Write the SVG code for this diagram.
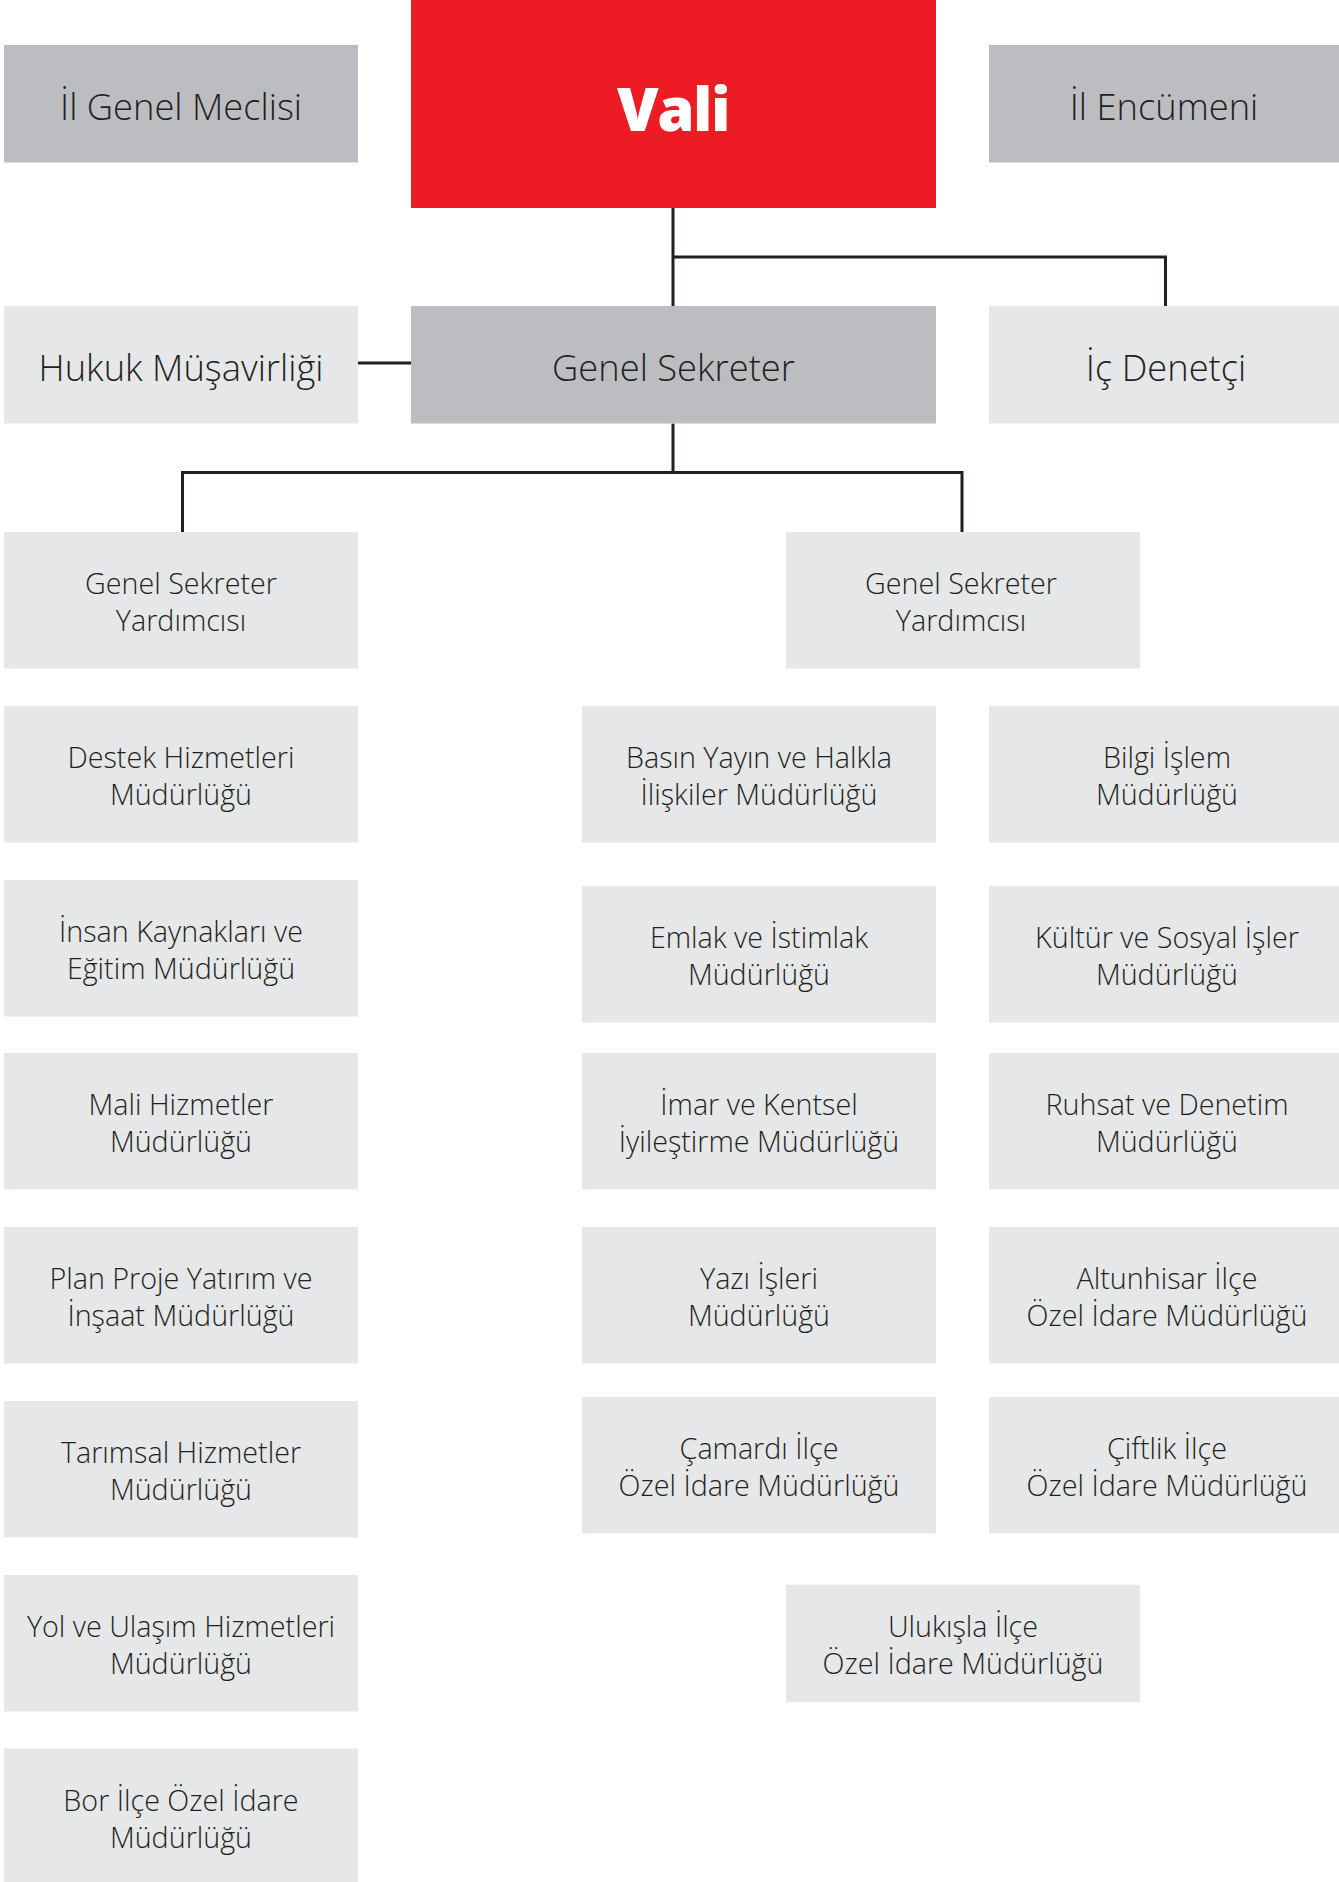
<svg xmlns="http://www.w3.org/2000/svg" width="1339" height="1882" viewBox="0 0 1339 1882">
<style>
.dk{fill:#bcbdc0}
.lt{fill:#e6e7e8}
.red{fill:#ed1c24}
.t1{font-family:"Open Sans","Noto Sans","Liberation Sans",sans-serif;font-weight:300;font-size:36.3px;fill:#231f20;text-anchor:middle}
.t2{font-family:"Open Sans","Noto Sans","Liberation Sans",sans-serif;font-weight:300;font-size:28.7px;fill:#231f20;text-anchor:middle}
.tv{font-family:"Open Sans","Noto Sans","Liberation Sans",sans-serif;font-weight:800;font-size:60px;letter-spacing:-1.5px;fill:#ffffff;text-anchor:middle}
.ln{fill:none;stroke:#231f20;stroke-width:3}
</style>
<rect width="1339" height="1882" fill="#ffffff"/>
<g id="connectors">
<path class="ln" d="M673,208 V306"/>
<path class="ln" d="M673,257 H1165.5 V306"/>
<path class="ln" d="M358,363 H411"/>
<path class="ln" d="M673,423.5 V472.5"/>
<path class="ln" d="M182.5,532 V472.5 H962 V532"/>
</g>
<g id="il-genel-meclisi"><rect class="dk" x="4" y="45" width="354" height="117.5"/><text class="t1" x="181" y="120">İl Genel Meclisi</text></g>
<g id="vali"><rect class="red" x="411" y="0" width="525" height="208"/><text class="tv" x="673" y="131">Vali</text></g>
<g id="il-encumeni"><rect class="dk" x="989" y="45" width="350" height="117.5"/><text class="t1" x="1164" y="120">İl Encümeni</text></g>
<g id="hukuk"><rect class="lt" x="4" y="306" width="354" height="117.5"/><text class="t1" x="181" y="380.5">Hukuk Müşavirliği</text></g>
<g id="genel-sekreter"><rect class="dk" x="411" y="306" width="525" height="117.5"/><text class="t1" x="673.5" y="380.5">Genel Sekreter</text></g>
<g id="ic-denetci"><rect class="lt" x="989" y="306" width="350" height="117.5"/><text class="t1" x="1166" y="380.5">İç Denetçi</text></g>

<g id="gsy-left"><rect class="lt" x="4" y="532" width="354" height="136.5"/><text class="t2" y="594.3"><tspan x="181">Genel Sekreter</tspan><tspan x="181" dy="37">Yardımcısı</tspan></text></g>
<g id="gsy-right"><rect class="lt" x="786" y="532" width="354" height="136.5"/><text class="t2" y="594.3"><tspan x="961">Genel Sekreter</tspan><tspan x="961" dy="37">Yardımcısı</tspan></text></g>

<g id="destek"><rect class="lt" x="4" y="706" width="354" height="136.5"/><text class="t2" y="768.3"><tspan x="181">Destek Hizmetleri</tspan><tspan x="181" dy="37">Müdürlüğü</tspan></text></g>
<g id="insan"><rect class="lt" x="4" y="880" width="354" height="136.5"/><text class="t2" y="942.3"><tspan x="181">İnsan Kaynakları ve</tspan><tspan x="181" dy="37">Eğitim Müdürlüğü</tspan></text></g>
<g id="mali"><rect class="lt" x="4" y="1053" width="354" height="136.5"/><text class="t2" y="1115.3"><tspan x="181">Mali Hizmetler</tspan><tspan x="181" dy="37">Müdürlüğü</tspan></text></g>
<g id="plan"><rect class="lt" x="4" y="1227" width="354" height="136.5"/><text class="t2" y="1289.3"><tspan x="181">Plan Proje Yatırım ve</tspan><tspan x="181" dy="37">İnşaat Müdürlüğü</tspan></text></g>
<g id="tarimsal"><rect class="lt" x="4" y="1401" width="354" height="136.5"/><text class="t2" y="1463.3"><tspan x="181">Tarımsal Hizmetler</tspan><tspan x="181" dy="37">Müdürlüğü</tspan></text></g>
<g id="yol"><rect class="lt" x="4" y="1575" width="354" height="136.5"/><text class="t2" y="1637.3"><tspan x="181">Yol ve Ulaşım Hizmetleri</tspan><tspan x="181" dy="37">Müdürlüğü</tspan></text></g>
<g id="bor"><rect class="lt" x="4" y="1748.5" width="354" height="136.5"/><text class="t2" y="1810.8"><tspan x="181">Bor İlçe Özel İdare</tspan><tspan x="181" dy="37">Müdürlüğü</tspan></text></g>

<g id="basin"><rect class="lt" x="582" y="706" width="354" height="136.5"/><text class="t2" y="768.3"><tspan x="759">Basın Yayın ve Halkla</tspan><tspan x="759" dy="37">İlişkiler Müdürlüğü</tspan></text></g>
<g id="emlak"><rect class="lt" x="582" y="886" width="354" height="136.5"/><text class="t2" y="948.3"><tspan x="759">Emlak ve İstimlak</tspan><tspan x="759" dy="37">Müdürlüğü</tspan></text></g>
<g id="imar"><rect class="lt" x="582" y="1053" width="354" height="136.5"/><text class="t2" y="1115.3"><tspan x="759">İmar ve Kentsel</tspan><tspan x="759" dy="37">İyileştirme Müdürlüğü</tspan></text></g>
<g id="yazi"><rect class="lt" x="582" y="1227" width="354" height="136.5"/><text class="t2" y="1289.3"><tspan x="759">Yazı İşleri</tspan><tspan x="759" dy="37">Müdürlüğü</tspan></text></g>
<g id="camardi"><rect class="lt" x="582" y="1397" width="354" height="136.5"/><text class="t2" y="1459.3"><tspan x="759">Çamardı İlçe</tspan><tspan x="759" dy="37">Özel İdare Müdürlüğü</tspan></text></g>

<g id="bilgi"><rect class="lt" x="989" y="706" width="350" height="136.5"/><text class="t2" y="768.3"><tspan x="1167">Bilgi İşlem</tspan><tspan x="1167" dy="37">Müdürlüğü</tspan></text></g>
<g id="kultur"><rect class="lt" x="989" y="886" width="350" height="136.5"/><text class="t2" y="948.3"><tspan x="1167">Kültür ve Sosyal İşler</tspan><tspan x="1167" dy="37">Müdürlüğü</tspan></text></g>
<g id="ruhsat"><rect class="lt" x="989" y="1053" width="350" height="136.5"/><text class="t2" y="1115.3"><tspan x="1167">Ruhsat ve Denetim</tspan><tspan x="1167" dy="37">Müdürlüğü</tspan></text></g>
<g id="altunhisar"><rect class="lt" x="989" y="1227" width="350" height="136.5"/><text class="t2" y="1289.3"><tspan x="1167">Altunhisar İlçe</tspan><tspan x="1167" dy="37">Özel İdare Müdürlüğü</tspan></text></g>
<g id="ciftlik"><rect class="lt" x="989" y="1397" width="350" height="136.5"/><text class="t2" y="1459.3"><tspan x="1167">Çiftlik İlçe</tspan><tspan x="1167" dy="37">Özel İdare Müdürlüğü</tspan></text></g>

<g id="ulukisla"><rect class="lt" x="786" y="1584.7" width="354" height="117.5"/><text class="t2" y="1637"><tspan x="963">Ulukışla İlçe</tspan><tspan x="963" dy="37">Özel İdare Müdürlüğü</tspan></text></g>
</svg>
